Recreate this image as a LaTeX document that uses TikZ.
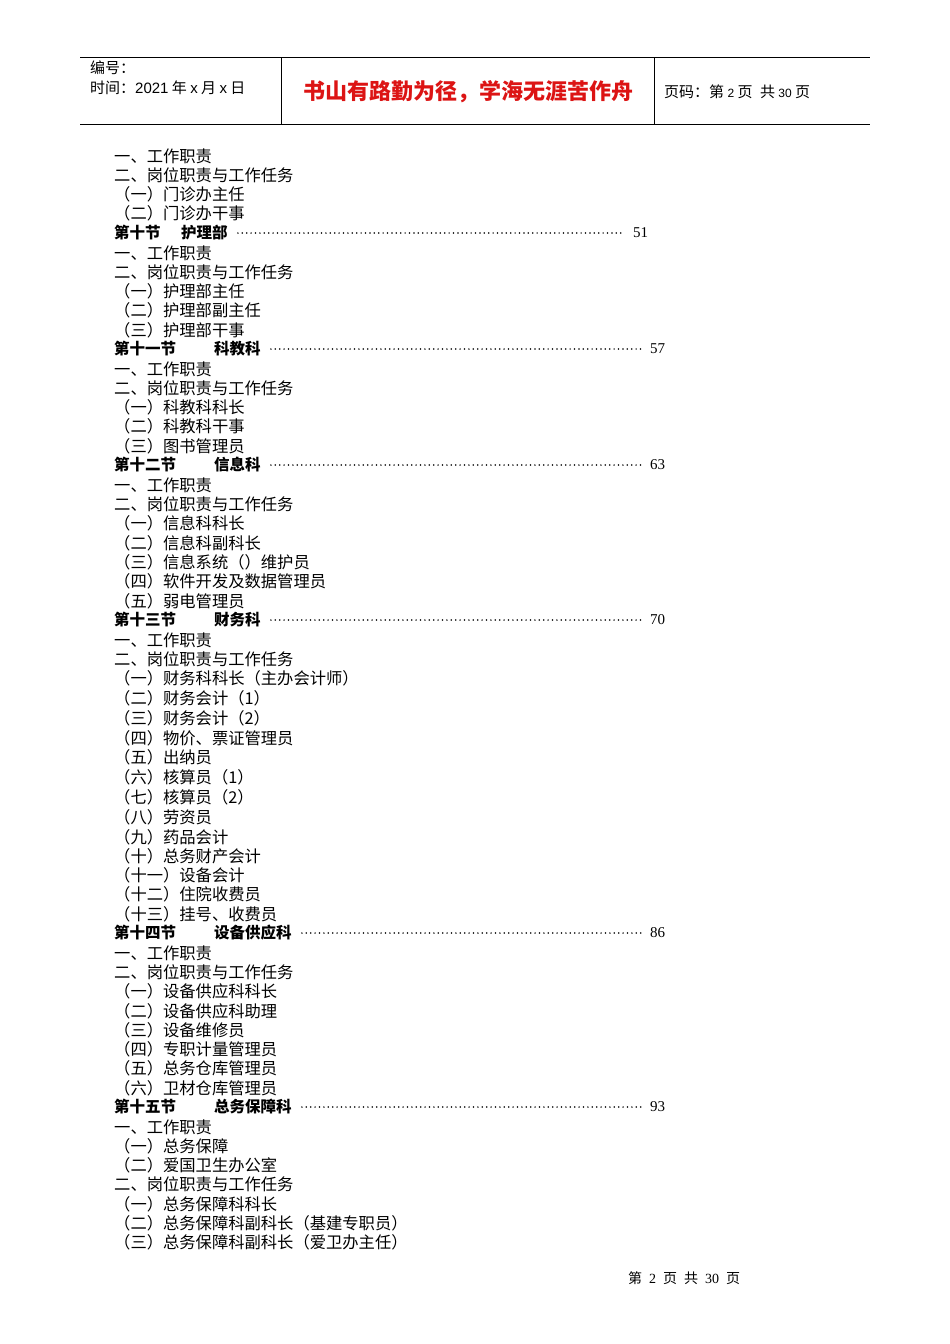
\documentclass[tikz,border=0pt]{standalone}
\usepackage{fontspec}
\setmainfont{Noto Sans CJK SC}
\newfontfamily\lib{Liberation Sans}
\newfontfamily\libs{Liberation Serif}
\definecolor{titlered}{RGB}{220,20,20}
\begin{document}
\begin{tikzpicture}[x=1pt,y=-1pt,
  item/.style={anchor=west,inner sep=0pt,font=\fontsize{16.3}{18}\selectfont},
  hitem/.style={anchor=west,inner sep=0pt,font=\fontsize{15}{17}\selectfont},
  head/.style={anchor=west,inner sep=0pt,font=\fontsize{15.5}{17}\selectfont\bfseries},
  num/.style={anchor=west,inner sep=0pt,font=\fontsize{15}{17}\selectfont\libs},
  dots/.style={line width=1.7pt,dash pattern=on 0pt off 4.4pt,line cap=round},
  rule/.style={line width=0.7pt}]
\useasboundingbox (0,0) rectangle (950,1344);
% header
\coordinate (tl) at (80,57); \coordinate (tr) at (870,57);
\coordinate (bl) at (80,124); \coordinate (br) at (870,124);
\coordinate (v1t) at (281,57); \coordinate (v1b) at (281,124);
\coordinate (v2t) at (654,57); \coordinate (v2b) at (654,124);
\draw[rule] (tl) -- (tr); \draw[rule] (bl) -- (br);
\draw[rule] (v1t) -- (v1b); \draw[rule] (v2t) -- (v2b);
\node[hitem] (h1) at (90,68) {编号：};
\node[hitem] (h2) at (90,88) {时间：{\lib 2021} 年 {\lib x} 月 {\lib x} 日};
\node[inner sep=0pt,font=\fontsize{22}{24}\selectfont\bfseries,text=titlered] (ttl) at (468,92) {书山有路勤为径，学海无涯苦作舟};
\node[hitem] (h3) at (664,92) {页码：第 {\lib\fontsize{12}{14}\selectfont 2} 页\enspace 共 {\lib\fontsize{12}{14}\selectfont 30} 页};
% items
\foreach \yy/\tt [count=\i] in {156/一、工作职责,175/二、岗位职责与工作任务,194/（一）门诊办主任,213/（二）门诊办干事,
253/一、工作职责,272/二、岗位职责与工作任务,291/（一）护理部主任,310/（二）护理部副主任,330/（三）护理部干事,
369/一、工作职责,388/二、岗位职责与工作任务,407/（一）科教科科长,426/（二）科教科干事,446/（三）图书管理员,
485/一、工作职责,504/二、岗位职责与工作任务,523/（一）信息科科长,543/（二）信息科副科长,562/（三）信息系统（）维护员,581/（四）软件开发及数据管理员,601/（五）弱电管理员,
640/一、工作职责,659/二、岗位职责与工作任务,678/（一）财务科科长（主办会计师）,698/（二）财务会计（1）,718/（三）财务会计（2）,738/（四）物价、票证管理员,757/（五）出纳员,777/（六）核算员（1）,797/（七）核算员（2）,817/（八）劳资员,837/（九）药品会计,856/（十）总务财产会计,875/（十一）设备会计,894/（十二）住院收费员,914/（十三）挂号、收费员,
953/一、工作职责,972/二、岗位职责与工作任务,991/（一）设备供应科科长,1011/（二）设备供应科助理,1030/（三）设备维修员,1049/（四）专职计量管理员,1068/（五）总务仓库管理员,1088/（六）卫材仓库管理员,
1127/一、工作职责,1146/（一）总务保障,1165/（二）爱国卫生办公室,1184/二、岗位职责与工作任务,1204/（一）总务保障科科长,1223/（二）总务保障科副科长（基建专职员）,1242/（三）总务保障科副科长（爱卫办主任）}
  \node[item] (it\i) at (114,\yy) {\tt};
% section headings
\foreach \yy/\a/\b/\bx/\n/\nx/\k in {233/第十节/护理部/181/51/633/a,349/第十一节/科教科/214/57/650/b,465/第十二节/信息科/214/63/650/c,620/第十三节/财务科/214/70/650/d,933/第十四节/设备供应科/214/86/650/e,1107/第十五节/总务保障科/214/93/650/f}{
  \node[head] (s\k) at (114,\yy) {\a};
  \node[head] (t\k) at (\bx,\yy) {\b};
  \node[num] (n\k) at (\nx,\yy) {\n};
  \draw[dots] ([xshift=10pt]t\k.east) -- ([xshift=-8pt]n\k.west);
}
\node[inner sep=0pt,font=\fontsize{14}{16}\selectfont] (foot) at (684,1278) {第\enspace{\libs 2}\enspace 页\enspace 共\enspace{\libs 30}\enspace 页};
\end{tikzpicture}
\end{document}
